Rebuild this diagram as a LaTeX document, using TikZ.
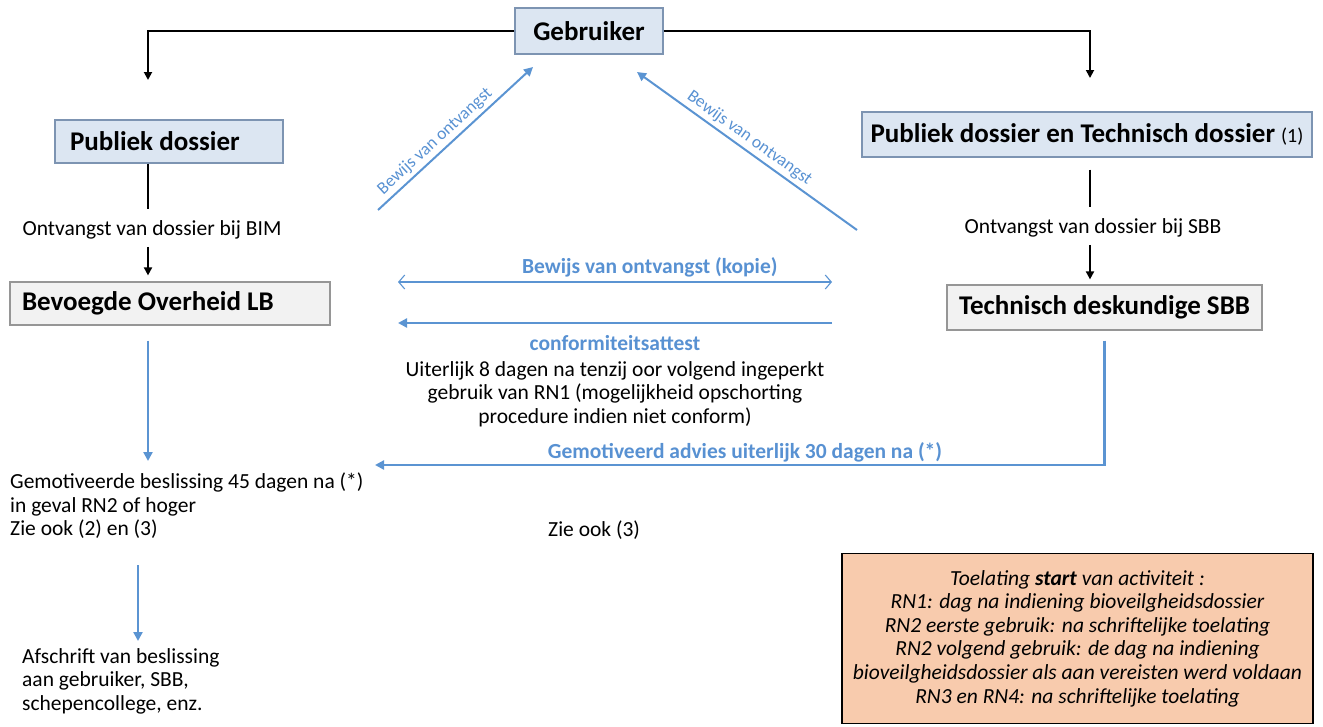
\documentclass[tikz,border=0pt]{standalone}
\usepackage{fontspec}
\setmainfont{Carlito}
\usetikzlibrary{arrows.meta, positioning, calc}

\definecolor{boxblauw}{RGB}{220,230,242}
\definecolor{boxrand}{RGB}{125,148,178}
\definecolor{grijsvul}{RGB}{242,242,242}
\definecolor{grijsrand}{RGB}{150,150,150}
\definecolor{lijnblauw}{RGB}{91,148,210}
\definecolor{tekstblauw}{RGB}{88,145,210}
\definecolor{oranje}{RGB}{248,203,173}

\begin{document}
\begin{tikzpicture}[x=1pt, y=-1pt,
					every node/.style={font=\fontsize{21.5}{23.5}\selectfont},
					blok/.style={draw=boxrand, fill=boxblauw, line width=1.2pt, minimum height=45pt,
						font=\fontsize{27}{30}\selectfont\bfseries},
					grijs/.style={blok, draw=grijsrand, fill=grijsvul},
					zwart/.style={line width=1.8pt, -{Triangle[length=8pt,width=8pt]}},
					blauw/.style={draw=lijnblauw, line width=2.6pt, -{Triangle[length=9pt,width=9pt]}},
					terug/.style={draw=lijnblauw, line width=2pt, {Triangle[length=9pt,width=9pt]}-},
					dun/.style={draw=lijnblauw, line width=1.1pt, {Straight Barb[length=6pt,width=14pt]}-{Straight Barb[length=6pt,width=14pt]}},
					blauwlbl/.style={text=tekstblauw, font=\fontsize{21.5}{23.5}\selectfont\bfseries},
					klein/.style={text=tekstblauw, font=\fontsize{17.5}{19}\selectfont, sloped},
					tekst/.style={align=left, inner sep=0pt},
					node distance=2pt]
				\useasboundingbox (0,0) rectangle (1323,726);
				\node[blok, minimum width=148pt, minimum height=46pt] (gebr) at (589,31) {Gebruiker};
				\node[blok, minimum width=228pt, minimum height=43pt, text width=198pt, inner xsep=15pt, align=flush left] (pub) at (169,141.5) {Publiek dossier};
				\node[grijs, minimum width=320pt, minimum height=43pt, text width=296pt, inner xsep=12pt, align=flush left] (lb) at (170,303.5) {Bevoegde Overheid LB};
				\node[blok, minimum width=450pt] (pubtech) at (1087,134.5) {Publiek dossier en Technisch dossier {\mdseries\fontsize{20}{22}\selectfont(1)}};
				\node[grijs, minimum width=315pt] (tds) at (1104.5,307.5) {Technisch deskundige SBB};
				\node (bim) at (152,230) {Ontvangst van dossier bij BIM};
				\node (sbb) at (1093,228) {Ontvangst van dossier bij SBB};
				\node[tekst, anchor=north west] (besl) at (10,473) {Gemotiveerde beslissing 45 dagen na (*)\\in geval RN2 of hoger\\Zie ook (2) en (3)};
				\node[tekst, anchor=north west] (afschr) at (22,648) {Afschrift van beslissing\\aan gebruiker, SBB,\\schepencollege, enz.};
				\node[blauwlbl] (advies) at (745,452) {Gemotiveerd advies uiterlijk 30 dagen na (*)};
				\node[anchor=west, inner sep=0pt] (zie) at (548,530) {Zie ook (3)};
				\node[draw=black, fill=oranje, line width=1.2pt, minimum width=471pt, minimum height=170pt, align=center,
					font=\fontsize{21.5}{23.6}\selectfont\itshape] (toel) at (1077.5,638.5) {Toelating \textbf{start} van activiteit :\\RN1: dag na indiening bioveilgheidsdossier\\RN2 eerste gebruik: na schriftelijke toelating\\RN2 volgend gebruik: de dag na indiening\\bioveilgheidsdossier als aan vereisten werd voldaan\\RN3 en RN4: na schriftelijke toelating};
				\coordinate (lkol) at (148,80);
				\coordinate (lkol2) at (138,0);
				\coordinate (rkol) at (1090,78);
				\coordinate (advpunt) at (375,465);
				\coordinate (d1a) at (378,210);
				\coordinate (d1b) at (533,67);
				\coordinate (d2a) at (857,230);
				\coordinate (d2b) at (637,72);
				\coordinate (k1) at (398,282);
				\coordinate (k2) at (832,282);
				\coordinate (c1) at (832,323);
				\coordinate (c2) at (398,323);
				\draw[zwart] (gebr.west) -| (lkol);
				\draw[zwart] (gebr.east) -| (rkol);
				\draw[line width=1.8pt, shorten >=8pt] (pub.south -| lkol) -- (bim.north -| lkol);
				\draw[zwart, shorten <=4pt, shorten >=6pt] (bim.south -| lkol) -- (lb.north -| lkol);
				\draw[line width=1.8pt, shorten <=12pt, shorten >=8pt] (pubtech.south -| rkol) -- (sbb.north -| rkol);
				\draw[zwart, shorten <=4pt, shorten >=5pt] (sbb.south -| rkol) -- (tds.north -| rkol);
				\draw[blauw, shorten <=15pt, shorten >=12pt] (lb.south -| lkol) -- (besl.north -| lkol);
				\draw[blauw, shorten <=26pt, shorten >=7pt] (besl.south -| lkol2) -- (afschr.north -| lkol2);
				\draw[blauw, shorten <=10pt] (tds.south) |- (advpunt);
				\draw[blauw, line width=2pt] (d1a) -- node[klein, above, pos=0.42] {Bewijs van ontvangst} (d1b);
				\draw[terug] (d2b) -- node[klein, above, pos=0.48] {Bewijs van ontvangst} (d2a);
				\draw[dun] (k1) -- node[blauwlbl, above=1pt, pos=0.58] (kopie) {Bewijs van ontvangst (kopie)} (k2);
				\draw[blauw, line width=2.4pt] (c1) -- node[blauwlbl, below=8pt, midway] (conf) {conformiteitsattest} (c2);
				\node[below=6pt of conf, align=center, inner sep=0pt] (uiterlijk) {Uiterlijk 8 dagen na tenzij oor volgend ingeperkt\\gebruik van RN1 (mogelijkheid opschorting\\procedure indien niet conform)};
			\end{tikzpicture}
\end{document}
